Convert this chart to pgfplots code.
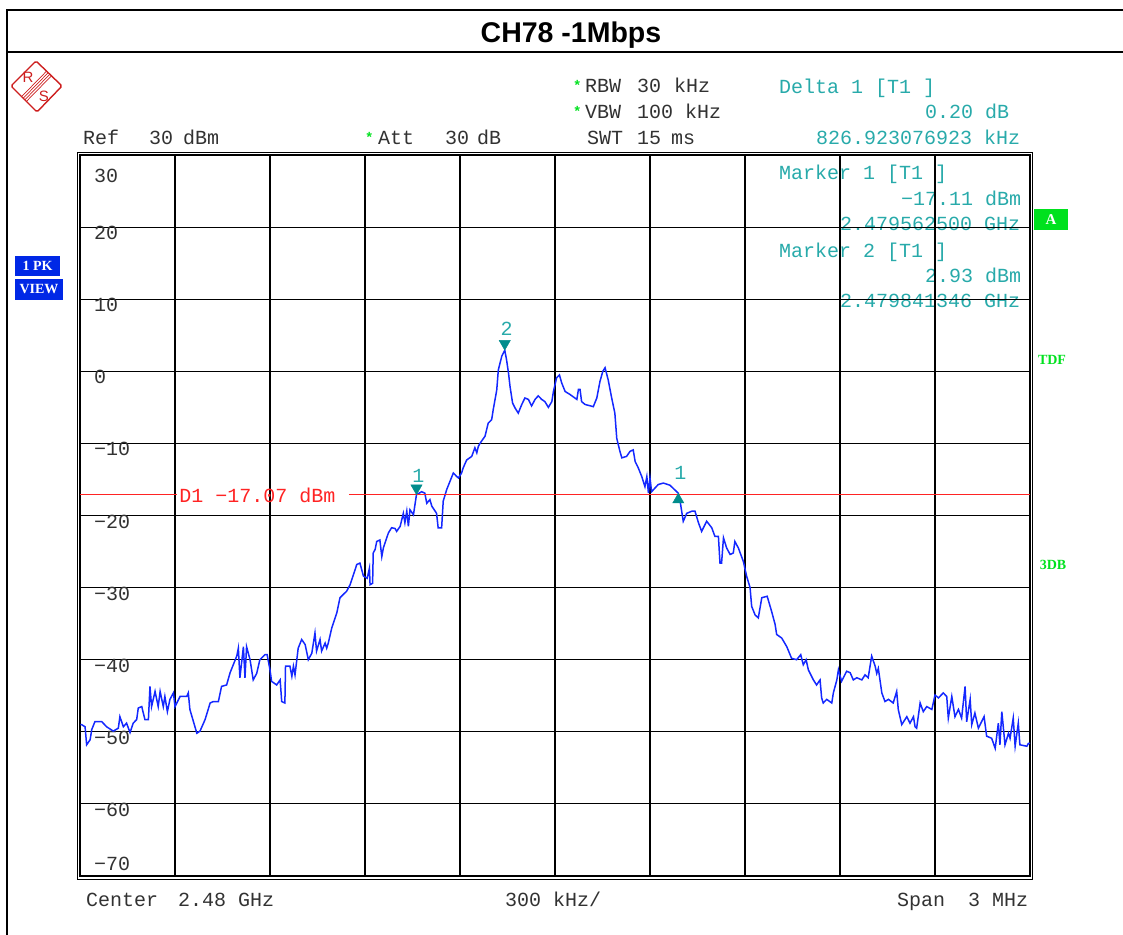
\documentclass[border=0pt]{standalone}
\usepackage{pgfplots}
\pgfplotsset{compat=1.18}
\usepackage{pgfplotstable}
\usepackage{fontspec}
\setmainfont{Liberation Mono}
\newfontfamily\arialf{Liberation Sans}
\newfontfamily\seriff{Liberation Serif}
\definecolor{trace}{RGB}{20,40,255}
\definecolor{teal2}{RGB}{40,170,170}
\definecolor{mk}{RGB}{0,140,140}
\definecolor{rsred}{RGB}{205,30,30}
\definecolor{dred}{RGB}{255,35,35}
\definecolor{gr}{RGB}{0,225,30}
\definecolor{bl}{RGB}{0,40,230}
\definecolor{txt}{RGB}{50,50,50}

\pgfplotstableread{
f dbm
2478.501 -49.0
2478.505 -49.0
2478.516 -49.3
2478.521 -51.8
2478.532 -51.1
2478.537 -49.7
2478.547 -48.6
2478.569 -48.6
2478.584 -49.3
2478.605 -49.9
2478.621 -49.5
2478.626 -47.9
2478.637 -49.3
2478.647 -48.8
2478.658 -50.1
2478.668 -48.8
2478.679 -48.3
2478.684 -46.7
2478.695 -46.5
2478.705 -48.3
2478.716 -48.3
2478.721 -43.7
2478.726 -46.5
2478.737 -44.4
2478.747 -46.5
2478.753 -44.4
2478.763 -46.5
2478.768 -45.1
2478.776 -47.2
2478.784 -45.5
2478.795 -44.6
2478.800 -46.5
2478.816 -45.1
2478.837 -45.1
2478.842 -44.6
2478.847 -46.9
2478.869 -50.2
2478.879 -49.9
2478.895 -48.3
2478.911 -46.0
2478.921 -45.8
2478.937 -45.8
2478.947 -43.7
2478.963 -43.5
2478.974 -41.8
2478.984 -40.7
2478.995 -39.5
2479.000 -38.4
2479.005 -42.5
2479.016 -38.2
2479.021 -42.5
2479.026 -38.2
2479.037 -40.0
2479.047 -42.8
2479.058 -41.9
2479.068 -40.0
2479.084 -39.3
2479.091 -39.3
2479.100 -41.4
2479.105 -43.0
2479.121 -43.5
2479.132 -42.8
2479.137 -45.8
2479.147 -46.0
2479.149 -40.9
2479.163 -40.9
2479.169 -42.3
2479.174 -40.9
2479.179 -42.1
2479.189 -38.4
2479.200 -37.2
2479.211 -37.9
2479.221 -40.0
2479.232 -39.1
2479.242 -36.3
2479.247 -38.8
2479.258 -37.2
2479.263 -38.8
2479.274 -37.7
2479.279 -38.4
2479.284 -37.7
2479.295 -35.6
2479.311 -33.5
2479.321 -31.4
2479.342 -30.5
2479.353 -29.6
2479.374 -26.8
2479.384 -26.6
2479.395 -28.4
2479.407 -28.7
2479.414 -27.3
2479.416 -29.6
2479.424 -29.4
2479.426 -25.2
2479.432 -24.7
2479.437 -23.6
2479.447 -23.4
2479.453 -25.7
2479.458 -24.5
2479.474 -22.4
2479.484 -21.7
2479.495 -21.8
2479.500 -22.2
2479.511 -21.5
2479.521 -19.7
2479.526 -21.0
2479.532 -19.4
2479.537 -21.5
2479.542 -19.2
2479.553 -19.9
2479.5625 -17.11
2479.579 -16.7
2479.589 -16.9
2479.595 -18.3
2479.605 -17.8
2479.611 -18.7
2479.626 -19.7
2479.631 -21.7
2479.642 -21.7
2479.647 -18.0
2479.658 -16.4
2479.668 -15.3
2479.679 -14.1
2479.690 -14.6
2479.695 -14.8
2479.705 -14.1
2479.710 -13.4
2479.721 -12.3
2479.737 -11.8
2479.747 -10.6
2479.753 -11.3
2479.758 -10.4
2479.763 -10.0
2479.779 -9.0
2479.789 -7.2
2479.800 -6.7
2479.805 -5.3
2479.816 -2.6
2479.821 0.2
2479.832 2.1
2479.8413 2.93
2479.847 1.6
2479.853 -0.2
2479.858 -2.1
2479.866 -4.4
2479.874 -5.1
2479.884 -5.8
2479.895 -4.6
2479.905 -3.7
2479.916 -3.9
2479.926 -4.8
2479.937 -3.9
2479.947 -3.4
2479.958 -3.9
2479.968 -4.2
2479.979 -5.0
2479.990 -4.2
2479.995 -2.8
2480.005 -0.9
2480.014 -0.5
2480.021 -1.6
2480.032 -2.8
2480.047 -3.2
2480.069 -3.9
2480.074 -2.5
2480.079 -2.5
2480.084 -4.2
2480.095 -4.6
2480.121 -4.9
2480.132 -3.7
2480.142 -1.4
2480.151 0.0
2480.158 0.5
2480.168 -1.2
2480.179 -3.7
2480.189 -5.8
2480.195 -9.3
2480.205 -11.1
2480.211 -12.0
2480.226 -11.8
2480.237 -11.1
2480.247 -10.9
2480.253 -12.5
2480.263 -13.4
2480.274 -14.6
2480.284 -16.0
2480.290 -14.6
2480.295 -16.9
2480.300 -14.8
2480.305 -16.7
2480.326 -15.7
2480.342 -15.5
2480.363 -15.8
2480.3894 -16.91
2480.395 -18.0
2480.405 -20.8
2480.416 -19.7
2480.432 -19.4
2480.442 -19.4
2480.453 -21.0
2480.463 -22.2
2480.479 -20.8
2480.495 -21.7
2480.505 -22.9
2480.516 -22.9
2480.521 -26.6
2480.526 -26.6
2480.532 -23.1
2480.542 -24.5
2480.553 -25.4
2480.563 -25.2
2480.568 -23.6
2480.579 -24.5
2480.595 -26.4
2480.605 -28.4
2480.616 -30.0
2480.621 -32.6
2480.632 -33.8
2480.642 -34.2
2480.653 -31.4
2480.670 -31.2
2480.684 -33.3
2480.695 -35.1
2480.700 -36.5
2480.716 -37.0
2480.732 -38.2
2480.747 -39.8
2480.763 -40.0
2480.776 -39.3
2480.784 -40.7
2480.793 -40.0
2480.800 -41.4
2480.816 -42.8
2480.826 -43.5
2480.837 -42.8
2480.842 -45.3
2480.847 -46.0
2480.858 -45.5
2480.874 -46.0
2480.879 -44.6
2480.890 -42.8
2480.895 -41.4
2480.905 -43.0
2480.921 -41.6
2480.932 -41.8
2480.942 -42.8
2480.953 -42.5
2480.969 -42.8
2480.979 -42.1
2480.989 -42.5
2481.000 -39.5
2481.011 -40.9
2481.016 -41.9
2481.021 -41.2
2481.032 -44.6
2481.042 -45.8
2481.053 -45.5
2481.068 -46.0
2481.079 -44.4
2481.084 -46.9
2481.095 -49.0
2481.111 -47.9
2481.121 -48.8
2481.132 -47.9
2481.137 -49.3
2481.142 -49.5
2481.153 -46.0
2481.163 -47.2
2481.174 -46.5
2481.190 -46.9
2481.200 -44.9
2481.211 -45.3
2481.226 -44.6
2481.237 -45.1
2481.242 -48.1
2481.253 -45.1
2481.263 -47.9
2481.274 -46.9
2481.284 -48.1
2481.295 -43.7
2481.300 -48.6
2481.311 -45.5
2481.316 -49.0
2481.326 -47.4
2481.337 -49.5
2481.347 -48.6
2481.355 -47.9
2481.363 -50.6
2481.379 -50.9
2481.390 -52.3
2481.400 -48.8
2481.405 -51.8
2481.411 -47.2
2481.421 -51.8
2481.432 -50.2
2481.437 -50.9
2481.447 -48.1
2481.453 -52.0
2481.463 -48.8
2481.468 -51.8
2481.490 -52.0
2481.495 -51.6
2481.500 -51.6
}\tracedata

\newcommand\T[3]{\node[anchor=base west,inner sep=0pt,#1] at #2 {#3};}

\begin{document}
\fontsize{20}{24}\selectfont
\begin{tikzpicture}
\path[use as bounding box] (0pt,0pt) rectangle (1123pt,-934pt);
\begin{scope}[x=1pt,y=-1pt]
  % outer frame and title band
  \draw[line width=2pt] (7,940) -- (7,10) -- (1130,10);
  \draw[line width=2pt] (7,52) -- (1130,52);
  \node[font=\arialf\bfseries\fontsize{28.5}{30}\selectfont] at (571,35) {CH78 -1Mbps};
  % R&S logo
  \draw[rsred, line width=1.4pt, rounded corners=1.5pt] (36,61) -- (62,86) -- (37,112) -- (11,86) -- cycle;
  \foreach \o in {-2.4,-0.8,0.8,2.4}{
    \draw[rsred, line width=0.7pt] (24+\o,99+\o) -- (49+\o,73.5+\o);}
  \node[text=rsred, font=\arialf\fontsize{15}{15}\selectfont, inner sep=0] at (28,77) {R};
  \node[text=rsred, font=\arialf\fontsize{15}{15}\selectfont, inner sep=0] at (44,96) {S};
  % header text
  \T{text=gr, font=\bfseries\fontsize{14}{14}\selectfont}{(573,90)}{*}
  \T{text=txt}{(585,92)}{RBW}
  \T{text=txt}{(637,92)}{30}
  \T{text=txt}{(674,92)}{kHz}
  \T{text=gr, font=\bfseries\fontsize{14}{14}\selectfont}{(573,116)}{*}
  \T{text=txt}{(585,118)}{VBW}
  \T{text=txt}{(637,118)}{100}
  \T{text=txt}{(685,118)}{kHz}
  \T{text=txt}{(587,144)}{SWT}
  \T{text=txt}{(637,144)}{15}
  \T{text=txt}{(671,144)}{ms}
  \T{text=txt}{(83,144)}{Ref}
  \T{text=txt}{(149,144)}{30}
  \T{text=txt}{(183,144)}{dBm}
  \T{text=gr, font=\bfseries\fontsize{14}{14}\selectfont}{(365,142)}{*}
  \T{text=txt}{(378,144)}{Att}
  \T{text=txt}{(445,144)}{30}
  \T{text=txt}{(477,144)}{dB}
  % marker info
  \T{text=teal2}{(779,93)}{Delta 1 [T1 ]}
  \T{text=teal2}{(925,118)}{0.20 dB}
  \T{text=teal2}{(816,144)}{826.923076923 kHz}
  \T{text=teal2}{(779,179)}{Marker 1 [T1 ]}
  \T{text=teal2}{(901,205)}{−17.11 dBm}
  \T{text=teal2}{(840,230)}{2.479562500 GHz}
  \T{text=teal2}{(779,257)}{Marker 2 [T1 ]}
  \T{text=teal2}{(925,282)}{2.93 dBm}
  \T{text=teal2}{(840,307)}{2.479841346 GHz}
  % footer
  \T{text=txt}{(86,906)}{Center}
  \T{text=txt}{(178,906)}{2.48 GHz}
  \T{text=txt}{(505,906)}{300 kHz/}
  \T{text=txt}{(897,906)}{Span}
  \T{text=txt}{(968,906)}{3 MHz}
  % side boxes
  \node[fill=bl, text=white, font=\seriff\bfseries\fontsize{14}{14}\selectfont, minimum width=45pt, minimum height=20pt, inner sep=0] at (37.5,266) {1 PK};
  \node[fill=bl, text=white, font=\seriff\bfseries\fontsize{14}{14}\selectfont, minimum width=48pt, minimum height=21pt, inner sep=0] at (39,289.5) {VIEW};
  \node[fill=gr, text=white, font=\seriff\bfseries\fontsize{15}{15}\selectfont, minimum width=34pt, minimum height=21pt, inner sep=0] at (1051,219.5) {A};
  \node[text=gr, font=\seriff\bfseries\fontsize{14}{14}\selectfont, inner sep=0] at (1052,360) {TDF};
  \node[text=gr, font=\seriff\bfseries\fontsize{14}{14}\selectfont, inner sep=0] at (1053,565) {3DB};
  % outer double frame of the display
  \draw[line width=0.9pt] (77.5,152.5) rectangle (1032.5,879);
\end{scope}

\begin{axis}[
  at={(80pt,-876pt)}, anchor=south west,
  scale only axis, width=950pt, height=721pt,
  xmin=2478.5, xmax=2481.5, ymin=-70, ymax=30,
  xtick={2478.8,2479.1,2479.4,2479.7,2480.0,2480.3,2480.6,2480.9,2481.2},
  xticklabels={},
  ytick={-60,-50,-40,-30,-20,-10,0,10,20},
  yticklabels={−60,−50,−40,−30,−20,−10,0,10,20},
  yticklabel style={anchor=north west, inner sep=0pt, xshift=14pt, yshift=1pt, text=txt},
  major tick length=0pt,
  grid=major, grid style={black, line width=1.1pt},
  axis line style={line width=1.4pt},
  clip=true,
]
\addplot[trace, line width=1.5pt] table[x=f, y=dbm] {\tracedata};
% display line D1
\draw[dred, line width=1pt] (axis cs:2478.5,-17.07) -- (axis cs:2478.806,-17.07);
\draw[dred, line width=1pt] (axis cs:2479.349,-17.07) -- (axis cs:2481.5,-17.07);
\node[anchor=base west, inner sep=0pt, text=dred, yshift=-8.5pt] at (axis cs:2478.813,-17.07) {D1 −17.07 dBm};
% markers
\addplot[only marks, mark=triangle*, mark size=6.5pt, mark options={fill=mk, draw=mk, yshift=6.5pt, rotate=180}] coordinates {(2479.5625,-17.11) (2479.8413,2.93)};
\addplot[only marks, mark=triangle*, mark size=6.5pt, mark options={fill=mk, draw=mk, yshift=-6.5pt}] coordinates {(2480.3894,-16.91)};
\node[text=teal2, inner sep=0pt, yshift=19pt, xshift=2pt] at (axis cs:2479.5625,-17.11) {1};
\node[text=teal2, inner sep=0pt, yshift=21pt, xshift=2pt] at (axis cs:2479.8413,2.93) {2};
\node[text=teal2, inner sep=0pt, yshift=20pt, xshift=2pt] at (axis cs:2480.3894,-16.91) {1};
% top and bottom scale labels
\node[anchor=north west, inner sep=0pt, text=txt] at (axis cs:2478.5,30) [xshift=14pt, yshift=-14pt] {30};
\node[anchor=south west, inner sep=0pt, text=txt] at (axis cs:2478.5,-70) [xshift=14pt, yshift=5pt] {−70};
\end{axis}
\end{tikzpicture}
\end{document}
